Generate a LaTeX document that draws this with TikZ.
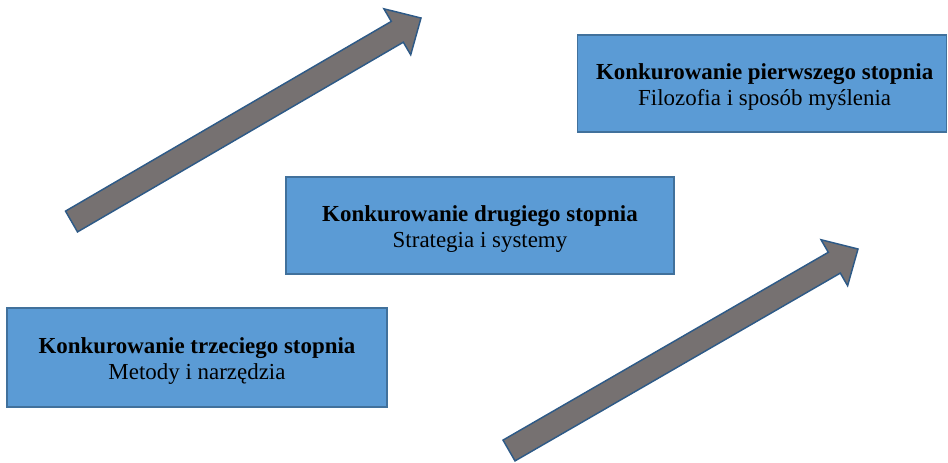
\documentclass[tikz,border=0pt]{standalone}
\usepackage{fontspec}
\setmainfont{Liberation Serif}
\definecolor{boxfill}{HTML}{5B9BD5}
\definecolor{boxline}{HTML}{41719C}
\definecolor{arrfill}{HTML}{767171}
\definecolor{arrline}{HTML}{2E5A87}
\tikzset{
  levelbox/.style={draw=boxline, fill=boxfill, line width=1.1pt, inner sep=0pt},
  leveltext/.style={align=center, inner sep=0pt, yshift=-3pt,
    font=\fontsize{17.2}{19.5}\selectfont, text=black},
  blockarrow/.style={draw=arrline, fill=arrfill, line width=1.1pt, line join=miter}
}
\begin{document}
\begin{tikzpicture}[x=0.75pt,y=-0.75pt]
\useasboundingbox (0,0) rectangle (948,462);
% block arrows
\draw[blockarrow] (65.5,211.1) -- (391.3,21.4) -- (383.9,8.8) -- (421,18)
  -- (410.7,54.8) -- (403.3,42.2) -- (77.5,231.9) -- cycle;
\draw[blockarrow] (503,440.1) -- (828.3,252.3) -- (821.0,239.7) -- (858,249)
  -- (847.6,285.7) -- (840.3,273.1) -- (515,460.9) -- cycle;
% boxes
\node[levelbox, minimum width=369*0.75pt, minimum height=97*0.75pt] (b1) at (762,83.5) {};
\node[leveltext] (t1) at ([xshift=2pt]b1.center)
  {\textbf{Konkurowanie pierwszego stopnia}\\Filozofia i sposób myślenia};
\node[levelbox, minimum width=388*0.75pt, minimum height=97*0.75pt] (b2) at (480,225.5) {};
\node[leveltext] (t2) at (b2.center)
  {\textbf{Konkurowanie drugiego stopnia}\\Strategia i systemy};
\node[levelbox, minimum width=380*0.75pt, minimum height=99*0.75pt] (b3) at (197,357.5) {};
\node[leveltext] (t3) at (b3.center)
  {\textbf{Konkurowanie trzeciego stopnia}\\Metody i narzędzia};
\end{tikzpicture}
\end{document}
